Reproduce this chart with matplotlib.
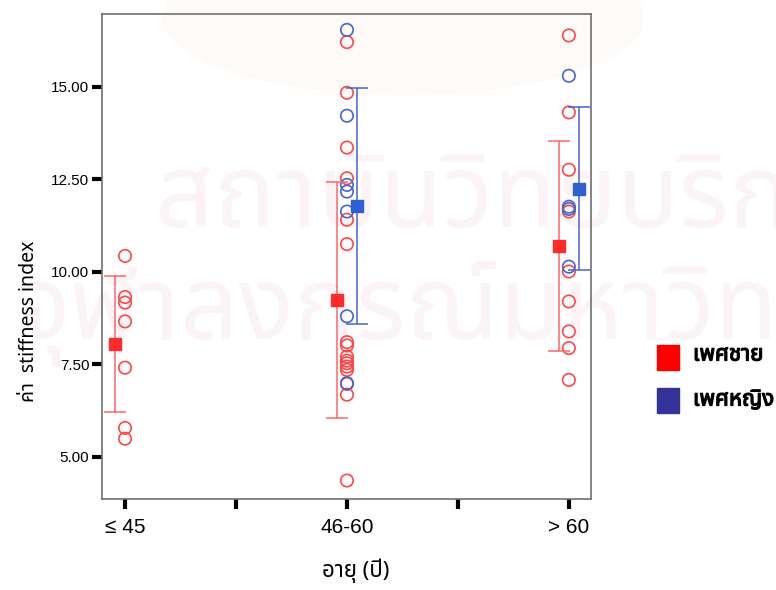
import matplotlib
matplotlib.use("Agg")
import matplotlib.pyplot as plt
from matplotlib import font_manager, patheffects
from matplotlib.ft2font import FT2Font
from matplotlib.patches import Rectangle, Ellipse


# หา font ที่มีอักษรไทย (เลือกตัวที่ไม่ใช่ mono ก่อน)
def find_thai_font():
    prefer = ["Noto Sans Thai", "Noto Sans Thai UI", "Loma", "Garuda", "Sarabun",
              "Tahoma", "Umpush", "Waree", "Sawasdee", "Kinnari", "Norasi",
              "Laksaman", "Purisa", "Tlwg Typo", "Tlwg Typist", "Tlwg Mono"]
    found = {}
    for path in font_manager.findSystemFonts():
        try:
            f = FT2Font(path)
            if ord("ก") in f.get_charmap():
                name = font_manager.FontProperties(fname=path).get_name()
                font_manager.fontManager.addfont(path)
                found.setdefault(name, path)
        except Exception:
            pass
    for p in prefer:
        if p in found:
            return p
    for name in found:
        if "Mono" not in name and "Typ" not in name:
            return name
    return next(iter(found), None)


thai = find_thai_font()
fams = [thai, "DejaVu Sans"] if thai else ["DejaVu Sans"]
plt.rcParams["font.family"] = ["Liberation Sans", "DejaVu Sans"]

# ข้อมูล
groups = ["≤ 45", "46-60", "> 60"]
male_vals = [
    [10.43, 9.32, 9.17, 8.66, 7.41, 5.78, 5.49],
    [16.21, 14.84, 13.36, 12.53, 11.41, 10.75, 8.10, 8.01, 7.71, 7.60,
     7.53, 7.44, 7.35, 6.97, 6.68, 4.36],
    [16.39, 14.31, 12.76, 11.63, 10.01, 9.20, 8.39, 7.94, 7.08],
]
female_vals = [
    [],
    [16.54, 14.22, 12.35, 12.17, 11.63, 8.80, 6.99],
    [15.30, 11.76, 11.70, 10.14],
]
male_mean = [8.05, 9.24, 10.70]
male_sd = [1.84, 3.18, 2.85]
female_mean = [None, 11.79, 12.25]
female_sd = [None, 3.19, 2.21]
yticks = [5.0, 7.5, 10.0, 12.5, 15.0]

red_c = "#ff4646"
blue_c = "#4466d0"
red_m = "#ff2a2a"
blue_m = "#3060d0"

fig = plt.figure(figsize=(7.76, 5.90), dpi=100)

# ลายน้ำ
fig.patches.append(Ellipse((0.52, 0.97), 0.62, 0.26, transform=fig.transFigure,
                           color="#fefaf7", zorder=-3))
fig.text(0.20, 0.66, "สถาบันวิทยบริการ", fontsize=74, color="#fbf3f6",
         family=fams, ha="left", va="center", zorder=-2)
fig.text(0.02, 0.47, "จุฬาลงกรณ์มหาวิทยาลัย", fontsize=74, color="#fbf3f6",
         family=fams, ha="left", va="center", zorder=-2)

ax = fig.add_axes([0.1314, 0.1542, 0.63, 0.8221])
ax.patch.set_alpha(0)

for i in range(len(groups)):
    ax.scatter([i] * len(male_vals[i]), male_vals[i], s=80, facecolors="none",
               edgecolors=red_c, linewidths=1.2, zorder=3)
    if female_vals[i]:
        ax.scatter([i] * len(female_vals[i]), female_vals[i], s=80,
                   facecolors="none", edgecolors=blue_c, linewidths=1.2, zorder=3)
    ax.errorbar(i - 0.045, male_mean[i], yerr=male_sd[i], fmt="s", ms=8,
                color=red_m, ecolor="#ff6464", elinewidth=1.1, capsize=8,
                capthick=1.1, zorder=4)
    if female_mean[i] is not None:
        ax.errorbar(i + 0.045, female_mean[i], yerr=female_sd[i], fmt="s", ms=8,
                    color=blue_m, ecolor="#4466cc", elinewidth=1.1, capsize=8,
                    capthick=1.1, zorder=4)

ax.set_xlim(-0.104, 2.099)
ax.set_ylim(3.86, 16.97)
ax.set_xticks([0, 1, 2])
ax.set_xticklabels(groups, fontsize=15)
ax.set_xticks([0.5, 1.5], minor=True)
ax.set_yticks(yticks)
ax.set_yticklabels(["%.2f" % v for v in yticks], fontsize=11)
ax.tick_params(axis="both", which="both", direction="out", length=7, width=3,
               color="black")
ax.tick_params(axis="x", pad=7)
ax.tick_params(axis="y", pad=2)
for s in ax.spines.values():
    s.set_color("#707070")
    s.set_linewidth(1.2)

fig.text(0.458, 0.012, "อายุ (ปี)", fontsize=16, family=fams, ha="center",
         va="bottom")
fig.text(0.038, 0.456, "ค่า  stiffness index", fontsize=14, family=fams,
         rotation=90, ha="center", va="center")

# legend
fig.patches.append(Rectangle((657 / 776, 1 - 370 / 590), 22 / 776, 25 / 590,
                             transform=fig.transFigure, color="#ff0000"))
fig.patches.append(Rectangle((657 / 776, 1 - 413 / 590), 22 / 776, 25 / 590,
                             transform=fig.transFigure, color="#333399"))
bold = [patheffects.withStroke(linewidth=0.9, foreground="black")]
fig.text(693 / 776, 1 - 355 / 590, "เพศชาย", fontsize=16, family=fams,
         weight="bold", va="center", path_effects=bold)
fig.text(693 / 776, 1 - 400 / 590, "เพศหญิง", fontsize=16, family=fams,
         weight="bold", va="center", path_effects=bold)

fig.savefig("out.png", dpi=100)
